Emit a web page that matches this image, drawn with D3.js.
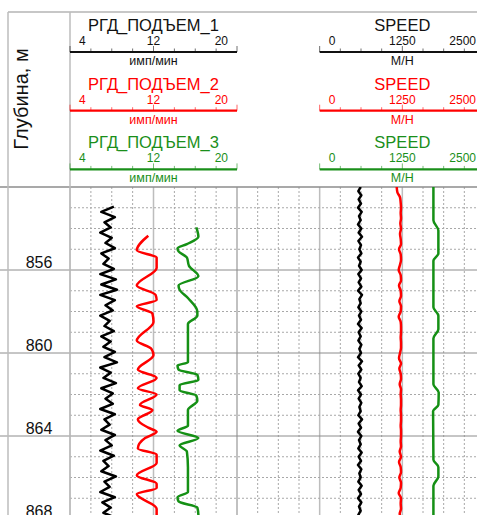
<!DOCTYPE html>
<html>
<head>
<meta charset="utf-8">
<script src="https://cdn.jsdelivr.net/npm/d3@7"></script>
<style>
    body { margin: 0; background: #fff; }
    svg { display: block; font-family: "Liberation Sans", Arial, sans-serif; }
</style>
</head>
<body>
<div id="chart"></div>
<script>
// header texts
const rgdNames = ["РГД_ПОДЪЕМ_1", "РГД_ПОДЪЕМ_2", "РГД_ПОДЪЕМ_3"];
const speedName = "SPEED";
const groupColors = ["#111111", "#ff0000", "#1a8f1a"];
const rgdUnits = "имп/мин";
const speedUnits = "M/H";
const rgdTickLabels = [4, 12, 20];
const speedTickLabels = [0, 1250, 2500];
const depthLabels = [856, 860, 864, 868];
const depthTitle = "Глубина, м";

// RGD_1: sampled every 0.25 m starting at 852.95
const rgd1Top = 852.95, rgd1Step = 0.25;
const rgd1Values = [8.2, 7.0, 8.3, 7.3, 7.9, 6.9, 8.0, 7.4, 8.3, 7.0, 7.7, 7.2, 8.2, 6.9, 8.4, 7.0,
    8.5, 6.9, 8.3, 7.4, 8.1, 6.9, 7.8, 7.3, 8.2, 7.0, 7.9, 7.2, 8.3, 7.3, 8.5, 6.9,
    7.9, 7.2, 8.4, 7.0, 8.1, 7.4, 8.1, 6.9, 8.3, 7.3, 7.8, 7.0, 8.3, 7.4, 8.0, 6.9,
    8.2, 7.2, 7.7, 7.0, 8.4, 7.3, 7.8, 6.9, 8.3, 7.1, 7.9, 7.2, 8.4, 7.0];

// RGD_2
const rgd2Depth = [854.35, 855.05, 855.4, 855.9, 856.75, 857.2, 857.45, 857.75, 858.1, 858.5, 859.4, 859.8,
    860.1, 860.8, 861.2, 861.7, 862.0, 862.5, 862.75, 863.2, 863.6, 863.8, 864.1, 864.6,
    864.9, 865.3, 865.9, 866.3, 866.5, 866.8, 867.5, 868.2];
const rgd2Values = [11.5, 10.4, 12.3, 12.3, 10.4, 12.2, 12.3, 10.4, 11.9, 12.0, 10.4, 11.8,
    12.0, 10.5, 12.3, 10.5, 12.3, 10.7, 11.9, 10.5, 11.5, 12.3, 11.2, 10.5,
    12.3, 12.3, 10.4, 12.3, 12.3, 10.4, 12.3, 12.3];

// RGD_3
const rgd3Depth = [853.95, 854.4, 854.75, 854.95, 855.1, 855.4, 855.8, 856.3, 856.75, 856.95, 857.35, 858.0,
    858.2, 858.6, 859.5, 860.45, 860.6, 860.8, 861.05, 861.3, 861.55, 861.8, 862.05, 862.3,
    862.75, 863.5, 863.75, 864.1, 864.45, 864.75, 865.5, 866.7, 866.95, 867.15, 867.45, 867.8, 868.2];
const rgd3Values = [16.1, 16.3, 15.2, 14.3, 14.4, 15.2, 15.4, 16.3, 14.4, 14.5, 15.3, 16.2,
    16.2, 15.3, 15.3, 15.3, 14.3, 14.4, 16.2, 16.3, 14.5, 14.5, 16.1, 16.2,
    15.3, 15.3, 14.3, 16.3, 14.5, 15.2, 15.3, 15.3, 14.3, 14.4, 16.2, 16.3, 16.0];

// SPEED 1: every 0.2 m from 852.0
const speed1Top = 852.0, speed1Step = 0.2;
const speed1Values = [620, 585, 630, 590, 625, 580, 635, 595, 620, 580, 630, 590, 640, 585, 625, 600,
    630, 580, 620, 595, 635, 585, 625, 590, 630, 580, 640, 600, 620, 585, 630, 595,
    625, 580, 635, 590, 620, 585, 630, 600, 625, 580, 640, 590, 630, 585, 620, 595,
    635, 580, 625, 590, 630, 600, 620, 585, 640, 590, 625, 580, 630, 595, 620, 585,
    635, 590, 625, 580, 630, 600, 620, 585, 635, 590, 625, 580, 630, 595, 620, 585, 630, 590];

// SPEED 2: every 0.25 m from 852.0
const speed2Top = 852.0, speed2Step = 0.25;
const speed2Values = [1165, 1175, 1215, 1225, 1230, 1225, 1230, 1220, 1230, 1215, 1225, 1230,
    1200, 1225, 1230, 1215, 1195, 1225, 1230, 1200, 1225, 1230, 1205, 1230,
    1225, 1195, 1225, 1230, 1230, 1225, 1230, 1230, 1215, 1200, 1230, 1205,
    1225, 1230, 1210, 1230, 1225, 1230, 1230, 1225, 1230, 1230, 1225, 1230,
    1230, 1225, 1230, 1210, 1230, 1200, 1225, 1230, 1205, 1230, 1225, 1195,
    1230, 1225, 1230, 1210, 1230, 1225];

// SPEED 3
const speed3Depth = [852.0, 853.6, 854.1, 855.2, 855.55, 857.8, 858.2, 858.85, 859.3, 861.5, 861.9, 862.5,
    862.8, 865.15, 865.5, 865.95, 866.4, 868.3];
const speed3Values = [1720, 1720, 1795, 1795, 1720, 1720, 1795, 1795, 1720, 1720, 1800, 1795,
    1715, 1720, 1795, 1795, 1720, 1720];

const W = 477, H = 515;

const svg = d3.select("#chart").append("svg")
    .attr("width", W)
    .attr("height", H);

const x1 = d3.scaleLinear().domain([4, 20]).range([70, 237]);
const x2 = d3.scaleLinear().domain([-1250, 2500]).range([237, 485]);
const y = d3.scaleLinear().domain([852, 868]).range([187, 519]);

const gridDash = "#a8a8a8";

// ---- grid ----
let grid = svg.append("g");

let x1Lines = d3.range(4, 20.01, 2);
let x2Lines = d3.range(-1250, 2500.1, 312.5);

function drawVLines(cls, data, xs) {
    grid.selectAll("line." + cls)
        .data(data)
        .join("line")
        .attr("class", cls)
        .attr("x1", d => xs(d)).attr("x2", d => xs(d))
        .attr("y1", y(852)).attr("y2", H)
        .attr("stroke", (d, i) => i % 4 === 0 ? "#bdbdbd" : gridDash)
        .attr("stroke-width", (d, i) => i % 4 === 0 ? 1.5 : 1)
        .attr("stroke-dasharray", (d, i) => i % 4 === 0 ? null : "2,2");
}
drawVLines("v1", x1Lines, x1);
drawVLines("v2", x2Lines, x2);

let hLines = d3.range(853, 869).filter(d => d % 4 !== 0);
grid.selectAll("line.h")
    .data(hLines)
    .join("line")
    .attr("class", "h")
    .attr("x1", x1(4)).attr("x2", x2(2500))
    .attr("y1", d => y(d)).attr("y2", d => y(d))
    .attr("stroke", gridDash)
    .attr("stroke-dasharray", "2,2");

grid.selectAll("line.hs")
    .data(depthLabels)
    .join("line")
    .attr("class", "hs")
    .attr("x1", 0).attr("x2", x2(2500))
    .attr("y1", d => y(d)).attr("y2", d => y(d))
    .attr("stroke", "#8c8c8c");

// frame
svg.append("line").attr("x1", 8).attr("x2", W).attr("y1", 12).attr("y2", 12)
    .attr("stroke", "#b5b5b5").attr("stroke-width", 1.5);
svg.append("line").attr("x1", 0).attr("x2", W).attr("y1", y(852)).attr("y2", y(852))
    .attr("stroke", "#8c8c8c").attr("stroke-width", 1.5);
svg.append("line").attr("x1", 8).attr("x2", 8).attr("y1", 12).attr("y2", H)
    .attr("stroke", "#bdbdbd").attr("stroke-width", 1.5);
svg.append("line").attr("x1", 70).attr("x2", 70).attr("y1", 12).attr("y2", H)
    .attr("stroke", "#bdbdbd").attr("stroke-width", 1.5);

// ---- depth column ----
svg.append("text")
    .attr("transform", "translate(28, 99) rotate(-90)")
    .attr("text-anchor", "middle")
    .style("font-size", "20px")
    .attr("fill", "#111")
    .text(depthTitle);

svg.selectAll("text.depth")
    .data(depthLabels)
    .join("text")
    .attr("class", "depth")
    .attr("x", 39)
    .attr("y", d => y(d) - 2)
    .attr("text-anchor", "middle")
    .style("font-size", "16px")
    .attr("fill", "#111")
    .text(d => d);

// ---- header scales ----
function drawScale(parent, xs, lo, hi, labels, title, units, color) {
    let g = parent.append("g");
    let step = (hi - lo) / 8;
    let midX = xs((lo + hi) / 2);

    g.append("text")
        .attr("x", midX).attr("y", 31)
        .attr("text-anchor", "middle")
        .style("font-size", "16.5px")
        .attr("fill", color)
        .text(title);

    g.selectAll("text.tick")
        .data(labels)
        .join("text")
        .attr("class", "tick")
        .attr("x", (d, i) => i === 0 ? xs(d) + 9 : i === labels.length - 1 ? xs(d) - 9 : xs(d))
        .attr("y", 45)
        .attr("text-anchor", (d, i) => i === 0 ? "start" : i === labels.length - 1 ? "end" : "middle")
        .style("font-size", "12px")
        .attr("fill", color)
        .text(d => d);

    g.selectAll("line.mark")
        .data(d3.range(lo, hi + step / 2, step))
        .join("line")
        .attr("class", "mark")
        .attr("x1", d => xs(d)).attr("x2", d => xs(d))
        .attr("y1", 52)
        .attr("y2", (d, i) => i % 4 === 0 ? 46 : 48.5)
        .attr("stroke", color)
        .attr("stroke-opacity", 0.6);

    g.append("line")
        .attr("x1", xs(lo)).attr("x2", xs(hi))
        .attr("y1", 52).attr("y2", 52)
        .attr("stroke", color)
        .attr("stroke-width", 2.2);

    g.append("text")
        .attr("x", midX).attr("y", 65)
        .attr("text-anchor", "middle")
        .style("font-size", "12.5px")
        .attr("fill", color)
        .text(units);
}

rgdNames.forEach((name, k) => {
    let g = svg.append("g").attr("transform", `translate(0, ${k * 58.7})`);
    drawScale(g, x1, 4, 20, rgdTickLabels, name, rgdUnits, groupColors[k]);
    drawScale(g, x2, 0, 2500, speedTickLabels, speedName, speedUnits, groupColors[k]);
});

// ---- curves ----
svg.append("clipPath").attr("id", "plot-clip")
    .append("rect").attr("x", 70).attr("y", y(852)).attr("width", W - 70).attr("height", H - y(852));

let curvesG = svg.append("g").attr("clip-path", "url(#plot-clip)");

const curveColors = ["#000000", "#ff0000", "#159015"];

let curves = [
    {xs: x1, color: curveColors[0], shape: d3.curveLinear,
        pts: rgd1Values.map((v, i) => ({d: rgd1Top + i * rgd1Step, v: v}))},
    {xs: x1, color: curveColors[1], shape: d3.curveMonotoneY,
        pts: rgd2Values.map((v, i) => ({d: rgd2Depth[i], v: v}))},
    {xs: x1, color: curveColors[2], shape: d3.curveMonotoneY,
        pts: rgd3Values.map((v, i) => ({d: rgd3Depth[i], v: v}))},
    {xs: x2, color: curveColors[0], shape: d3.curveLinear,
        pts: speed1Values.map((v, i) => ({d: speed1Top + i * speed1Step, v: v}))},
    {xs: x2, color: curveColors[1], shape: d3.curveMonotoneY,
        pts: speed2Values.map((v, i) => ({d: speed2Top + i * speed2Step, v: v}))},
    {xs: x2, color: curveColors[2], shape: d3.curveMonotoneY,
        pts: speed3Values.map((v, i) => ({d: speed3Depth[i], v: v}))}
];

curves.forEach(c => {
    let line = d3.line()
        .x(p => c.xs(p.v))
        .y(p => y(p.d))
        .curve(c.shape);

    curvesG.append("path")
        .datum(c.pts)
        .attr("d", line)
        .attr("fill", "none")
        .attr("stroke", c.color)
        .attr("stroke-width", 2.5)
        .attr("stroke-linejoin", "round");
});
</script>
</body>
</html>
